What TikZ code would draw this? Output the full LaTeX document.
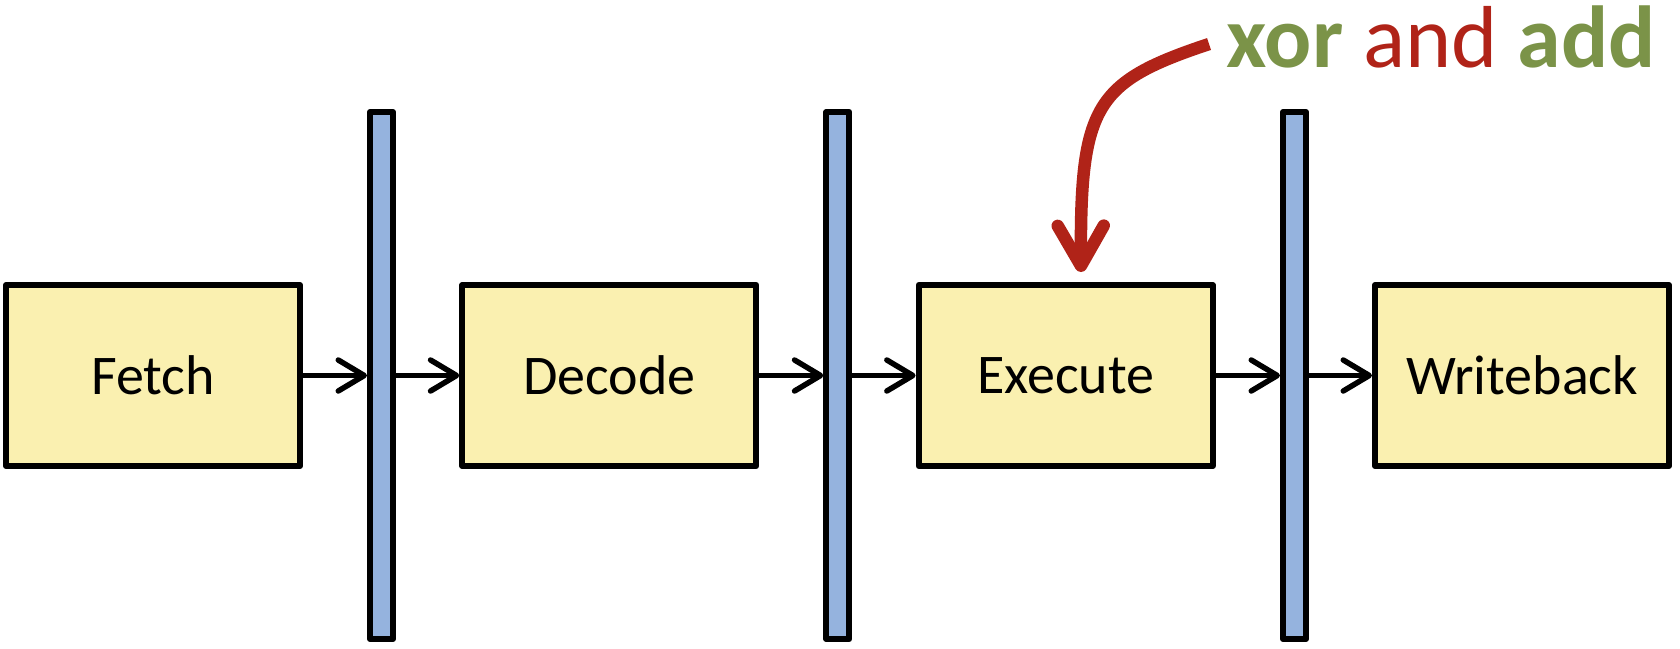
\documentclass[tikz,border=0pt]{standalone}
\usepackage{fontspec}
\setmainfont{Carlito}
\usetikzlibrary{arrows.meta}
\definecolor{boxfill}{HTML}{FAF0B0}
\definecolor{barfill}{HTML}{95B3DE}
\definecolor{olivegreen}{HTML}{7B9348}
\definecolor{darkred}{HTML}{B02318}
\tikzset{
  stagebox/.style={draw=black, fill=boxfill, line width=6pt, line join=round,
    minimum width=294pt, minimum height=181pt, inner sep=0pt,
    font=\fontsize{56}{60}\selectfont},
  latchbar/.style={draw=black, fill=barfill, line width=6pt, line join=round,
    minimum width=23pt, minimum height=527pt, inner sep=0pt},
  flowarrow/.style={line width=5.5pt, -{Straight Barb[length=26pt, width=31pt, round]}},
  notearrow/.style={draw=darkred, line width=12.5pt, -{Straight Barb[length=40pt, width=46pt, round]}}
}
\begin{document}
\begin{tikzpicture}[x=1pt, y=-1pt]
\useasboundingbox (0,0) rectangle (1680,648);
\node[stagebox] (fetch) at (153,375.5) {Fetch};
\node[stagebox] (decode) at (609.3,375.5) {Decode};
\node[stagebox] (execute) at (1065.6,375.5) {Execute};
\node[stagebox] (writeback) at (1522,375.5) {Writeback};
\node[latchbar] (bar1) at (381.5,375.5) {};
\node[latchbar] (bar2) at (837.8,375.5) {};
\node[latchbar] (bar3) at (1294.5,375.5) {};
\draw[flowarrow] (fetch.east) -- (bar1.west);
\draw[flowarrow] (bar1.east) -- (decode.west);
\draw[flowarrow] (decode.east) -- (bar2.west);
\draw[flowarrow] (bar2.east) -- (execute.west);
\draw[flowarrow] (execute.east) -- (bar3.west);
\draw[flowarrow] (bar3.east) -- (writeback.west);
\node[anchor=base west, inner sep=0pt, font=\fontsize{88}{92}\selectfont] (note) at (1226,67)
  {\textbf{\color{olivegreen}xor} {\color{darkred}and} \textbf{\color{olivegreen}add}};
\coordinate (notestart) at (1209,44);
\coordinate (tipend) at (1081,272);
\draw[notearrow] (notestart) .. controls (1095,82) and (1080,105) .. (tipend);
\end{tikzpicture}
\end{document}
